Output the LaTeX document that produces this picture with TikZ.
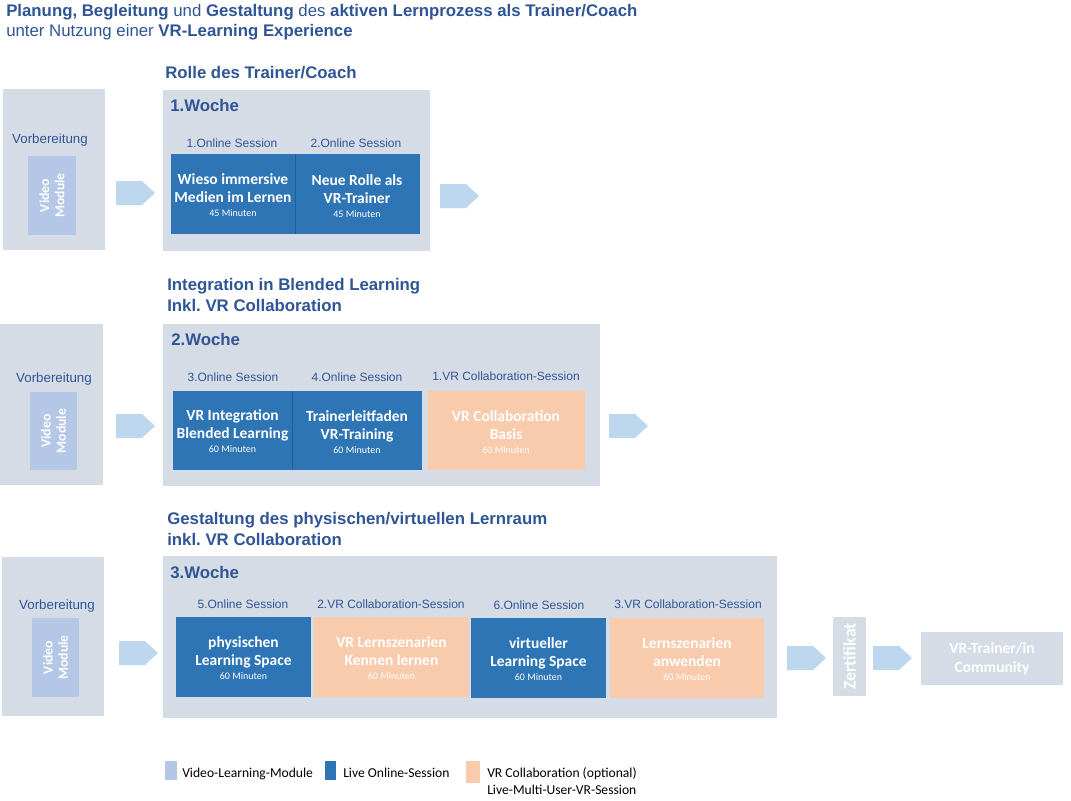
\documentclass[tikz,border=0pt]{standalone}
\usepackage{fontspec}
\setmainfont{Liberation Sans}
\newfontfamily\cfont{Carlito}
\frenchspacing
\definecolor{panelc}{HTML}{D6DCE5}
\definecolor{videoc}{HTML}{B4C7E7}
\definecolor{bluec}{HTML}{2E75B6}
\definecolor{orangec}{HTML}{F8CBAD}
\definecolor{arrowc}{HTML}{BDD7EE}
\definecolor{headc}{HTML}{2F5597}
\definecolor{sepc}{HTML}{1F5E99}
\newcommand\parr[2]{\fill[arrowc] (#1,#2-12) -- ++(26,0) -- ++(13,12) -- ++(-13,12) -- ++(-26,0) -- cycle;}
\newcommand\mins{\cfont\mdseries\fontsize{7.5}{9}\selectfont}
\begin{document}
\begin{tikzpicture}[x=0.75pt,y=-0.75pt,
  heading/.style={anchor=base west, inner sep=0, align=left, text=headc, font=\fontsize{12.6}{15.5}\selectfont\bfseries},
  sesslabel/.style={anchor=base, inner sep=0, text=headc, font=\fontsize{9}{11}\selectfont},
  vorb/.style={anchor=base, inner sep=0, text=headc, font=\fontsize{10}{12}\selectfont},
  boxtxt/.style={inner sep=0, align=center, text=white, font=\cfont\bfseries\fontsize{11.6}{14}\selectfont},
  vidtxt/.style={inner sep=0, align=center, text=white, rotate=90, font=\cfont\bfseries\fontsize{10.3}{11.5}\selectfont},
  legtxt/.style={anchor=base west, inner sep=0, align=left, font=\cfont\fontsize{10.2}{12.5}\selectfont}
]
\useasboundingbox (0,0) rectangle (1071,800);
\fill[white] (0,0) rectangle (1071,800);

% title (base anchor = baseline of last line)
\node[anchor=base west, inner sep=0, align=left, text=headc, font=\fontsize{12.6}{15}\selectfont] (title) at (6,36)
  {\textbf{Planung, Begleitung} und \textbf{Gestaltung} des \textbf{aktiven Lernprozess als Trainer/Coach}\\unter Nutzung einer \textbf{VR-Learning Experience}};

% ===== Row 1 =====
\node[heading] (h1) at (165,78) {Rolle des Trainer/Coach};
\fill[panelc] (3,89) rectangle (105,250);
\node[vorb] (v1) at (50,143) {Vorbereitung};
\fill[videoc] (28,156) rectangle (76,235);
\node[vidtxt] (vm1) at (52,195.5) {Video\\Module};
\parr{116}{193}
\fill[panelc] (163,90) rectangle (430,251);
\node[heading] (w1) at (170,111) {1.Woche};
\node[sesslabel] (l11) at (232,147) {1.Online Session};
\node[sesslabel] (l12) at (356,147) {2.Online Session};
\fill[bluec] (171,154) rectangle (420,234);
\draw[sepc, line width=0.6pt] (295,154) -- (295,234);
\node[boxtxt] (b11) at (233,195) {Wieso immersive\\Medien im Lernen\\[-3.5pt]{\mins 45 Minuten}};
\node[boxtxt] (b12) at (357,196) {Neue Rolle als\\VR-Trainer\\[-3.5pt]{\mins 45 Minuten}};
\parr{440}{196}

% ===== Row 2 =====
\node[heading] (h2) at (167,311) {Integration in Blended Learning\\Inkl. VR Collaboration};
\fill[panelc] (0,324) rectangle (103,485);
\node[vorb] (v2) at (54,382) {Vorbereitung};
\fill[videoc] (30,392) rectangle (77,470);
\node[vidtxt] (vm2) at (53.5,431) {Video\\Module};
\parr{116}{426}
\fill[panelc] (163,324) rectangle (600,486);
\node[heading] (w2) at (171,345) {2.Woche};
\node[sesslabel] (l21) at (233,381) {3.Online Session};
\node[sesslabel] (l22) at (357,381) {4.Online Session};
\node[sesslabel] (l23) at (506,380) {1.VR Collaboration-Session};
\fill[bluec] (173,391) rectangle (422,470);
\draw[sepc, line width=0.6pt] (292,391) -- (292,470);
\fill[orangec] (428,391) rectangle (585,470);
\node[boxtxt] (b21) at (232.5,431) {VR Integration\\Blended Learning\\[-3.5pt]{\mins 60 Minuten}};
\node[boxtxt] (b22) at (357,432) {Trainerleitfaden\\VR-Training\\[-3.5pt]{\mins 60 Minuten}};
\node[boxtxt] (b23) at (506,432) {VR Collaboration\\Basis\\[-3.5pt]{\mins 60 Minuten}};
\parr{609}{426}

% ===== Row 3 =====
\node[heading] (h3) at (167,545) {Gestaltung des physischen/virtuellen Lernraum\\inkl. VR Collaboration};
\fill[panelc] (2,557) rectangle (104,716);
\node[vorb] (v3) at (57,609) {Vorbereitung};
\fill[videoc] (32,618) rectangle (79,697);
\node[vidtxt] (vm3) at (55.5,657.5) {Video\\Module};
\parr{119}{653}
\fill[panelc] (163,556) rectangle (777,718);
\node[heading] (w3) at (170,578) {3.Woche};
\node[sesslabel] (l31) at (243,608) {5.Online Session};
\node[sesslabel] (l32) at (391,608) {2.VR Collaboration-Session};
\node[sesslabel] (l33) at (539,609) {6.Online Session};
\node[sesslabel] (l34) at (688,608) {3.VR Collaboration-Session};
\fill[bluec] (176,617) rectangle (311,697);
\fill[orangec] (314,617) rectangle (469,697);
\fill[bluec] (471,618) rectangle (606,698);
\fill[orangec] (610,618) rectangle (764,698);
\node[boxtxt] (b31) at (243.5,658) {physischen\\Learning Space\\[-3.5pt]{\mins 60 Minuten}};
\node[boxtxt] (b32) at (391.5,658) {VR Lernszenarien\\Kennen lernen\\[-3.5pt]{\mins 60 Minuten}};
\node[boxtxt] (b33) at (538.5,659) {virtueller\\Learning Space\\[-3.5pt]{\mins 60 Minuten}};
\node[boxtxt] (b34) at (687,659) {Lernszenarien\\anwenden\\[-3.5pt]{\mins 60 Minuten}};
\parr{787}{658}
\fill[panelc] (833,617) rectangle (866,696);
\node[vidtxt, font=\cfont\bfseries\fontsize{13.3}{14}\selectfont] (zert) at (849.5,656.5) {Zertifikat};
\parr{873}{658}
\fill[panelc] (921,632) rectangle (1063,685);
\node[boxtxt] (comm) at (992,659) {VR-Trainer/in\\Community};

% ===== Legend =====
\fill[videoc] (165,761) rectangle (177,780);
\node[legtxt] (lg1) at (182,777) {Video-Learning-Module};
\fill[bluec] (325,761) rectangle (336,780);
\node[legtxt] (lg2) at (343,777) {Live Online-Session};
\fill[orangec] (466,761) rectangle (480,783);
\node[legtxt] (lg3) at (487,794) {VR Collaboration (optional)\\Live-Multi-User-VR-Session};
\end{tikzpicture}
\end{document}
